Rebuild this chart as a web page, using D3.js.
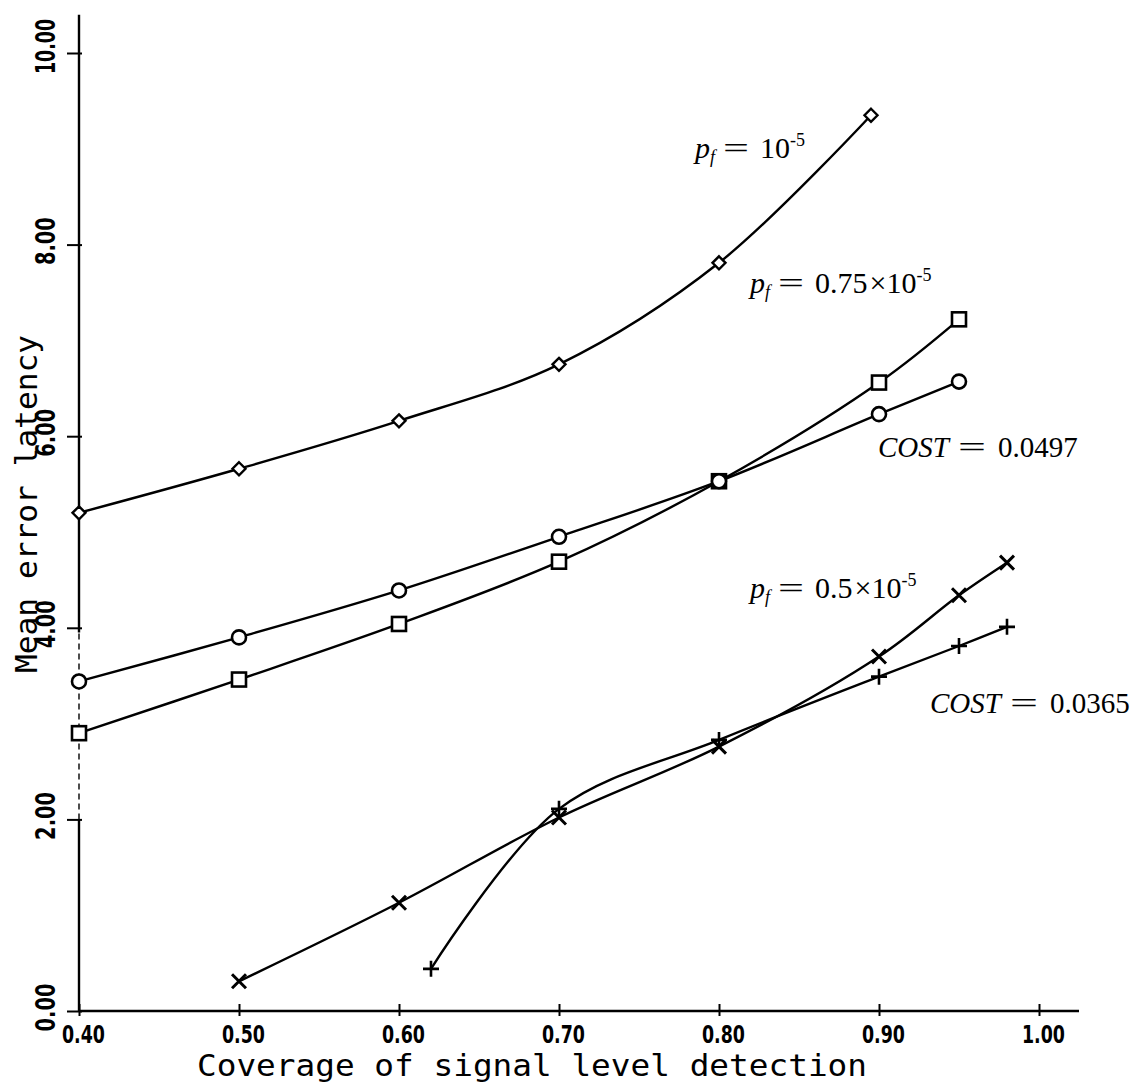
<!DOCTYPE html>
<html>
<head>
<meta charset="utf-8">
<script src="https://cdn.jsdelivr.net/npm/d3@7"></script>
<style>
  body { margin: 0; background: #fff; }
  svg { display: block; }
</style>
</head>
<body>
<svg id="chart"></svg>
<script>
// data
const xTicks = [0.40, 0.50, 0.60, 0.70, 0.80, 0.90, 1.00]
const yTicks = [0, 2, 4, 6, 8, 10]

const diamondX = [0.40, 0.50, 0.60, 0.70, 0.80, 0.895]
const diamondY = [5.20, 5.66, 6.16, 6.75, 7.81, 9.35]

const squareX = [0.40, 0.50, 0.60, 0.70, 0.80, 0.90, 0.95]
const squareY = [2.90, 3.46, 4.04, 4.69, 5.53, 6.56, 7.22]

const circleX = [0.40, 0.50, 0.60, 0.70, 0.80, 0.90, 0.95]
const circleY = [3.44, 3.90, 4.39, 4.95, 5.53, 6.23, 6.57]

const starX = [0.50, 0.60, 0.70, 0.80, 0.90, 0.95, 0.98]
const starY = [0.31, 1.13, 2.02, 2.76, 3.70, 4.34, 4.68]

const plusX = [0.62, 0.70, 0.80, 0.90, 0.95, 0.98]
const plusY = [0.44, 2.11, 2.83, 3.49, 3.81, 4.01]

const W = 1141, H = 1085

const svg = d3.select('#chart')
  .attr('width', W)
  .attr('height', H)

// setup scaling
const xScale = d3.scaleLinear().domain([0.4, 1.0]).range([79, 1039])
const yScale = d3.scaleLinear().domain([0, 10]).range([1011, 53])

const tickFont = '"Liberation Sans Narrow", "DejaVu Sans Condensed", sans-serif'

// axes
const xAxis = d3.axisBottom(xScale).tickValues(xTicks).tickSize(6).tickSizeOuter(0).tickFormat(d3.format('.2f'))
const yAxis = d3.axisLeft(yScale).tickValues(yTicks).tickSize(12).tickSizeOuter(0).tickFormat(d3.format('.2f'))

const gx = svg.append('g')
  .attr('transform', `translate(0,${yScale(0)})`)
  .call(xAxis)
gx.select('.domain').remove()
gx.selectAll('.tick line').attr('y1', -7).attr('y2', 5).attr('stroke', '#000').attr('stroke-width', 2)
gx.selectAll('.tick text')
  .attr('x', 4)
  .attr('y', 32)
  .attr('dy', 0)
  .attr('textLength', 43)
  .attr('lengthAdjust', 'spacingAndGlyphs')
  .attr('font-family', tickFont)
  .attr('font-weight', 'bold')
  .attr('font-size', 24)
  .attr('fill', '#000')

const gy = svg.append('g')
  .attr('transform', `translate(${xScale(0.4)},0)`)
  .call(yAxis)
gy.select('.domain').remove()
gy.selectAll('.tick line').attr('x1', -12).attr('x2', 3).attr('stroke', '#000').attr('stroke-width', 2)
gy.selectAll('.tick text')
  .attr('x', 0).attr('y', 0).attr('dy', 0)
  .attr('text-anchor', 'middle')
  .attr('transform', d => `translate(-24,${d >= 10 ? -7 : -4}) rotate(-90)`)
  .attr('textLength', d => d >= 10 ? 55 : 48)
  .attr('lengthAdjust', 'spacingAndGlyphs')
  .attr('font-family', tickFont)
  .attr('font-weight', 'bold')
  .attr('font-size', 27)
  .attr('fill', '#000')

// axis lines
const axisG = svg.append('g').attr('stroke', '#000').attr('stroke-width', 2.4).attr('fill', 'none')
axisG.append('line')
  .attr('x1', xScale(0.4)).attr('x2', xScale(1.025))
  .attr('y1', yScale(0)).attr('y2', yScale(0))
axisG.append('line')
  .attr('x1', xScale(0.4)).attr('x2', xScale(0.4))
  .attr('y1', yScale(0)).attr('y2', yScale(2))
axisG.append('line')
  .attr('x1', xScale(0.4)).attr('x2', xScale(0.4))
  .attr('y1', yScale(2)).attr('y2', yScale(3.95))
  .attr('stroke-width', 1.4)
  .attr('stroke-dasharray', '6,4')
axisG.append('line')
  .attr('x1', xScale(0.4)).attr('x2', xScale(0.4))
  .attr('y1', yScale(3.95)).attr('y2', yScale(10.4))

// axis titles
svg.append('text')
  .attr('x', 197)
  .attr('y', 1076)
  .attr('textLength', 670)
  .attr('lengthAdjust', 'spacingAndGlyphs')
  .attr('font-family', '"DejaVu Sans Mono", monospace')
  .attr('font-size', 30)
  .text('Coverage of signal level detection')

svg.append('text')
  .attr('transform', 'translate(37,504) rotate(-90)')
  .attr('text-anchor', 'middle')
  .attr('textLength', 338)
  .attr('lengthAdjust', 'spacingAndGlyphs')
  .attr('font-family', '"DejaVu Sans Mono", monospace')
  .attr('font-size', 31)
  .text('Mean error latency')

// series
const toPts = (xs, ys) => xs.map((x, i) => [x, ys[i]])
const line = d3.line()
  .x(d => xScale(d[0]))
  .y(d => yScale(d[1]))
  .curve(d3.curveCatmullRom.alpha(0.5))

const series = [
  {pts: toPts(diamondX, diamondY), mark: 'diamond'},
  {pts: toPts(squareX, squareY), mark: 'square'},
  {pts: toPts(circleX, circleY), mark: 'circle'},
  {pts: toPts(starX, starY), mark: 'star'},
  {pts: toPts(plusX, plusY), mark: 'plus'},
]

series.forEach(s => {
  svg.append('path')
    .attr('d', line(s.pts))
    .attr('fill', 'none')
    .attr('stroke', '#000')
    .attr('stroke-width', 2.4)

  const g = svg.append('g')
    .selectAll('g')
    .data(s.pts)
    .enter()
    .append('g')
    .attr('transform', d => `translate(${xScale(d[0])},${yScale(d[1])})`)

  if (s.mark === 'diamond') {
    g.append('path').attr('d', 'M0,-6.5L6.5,0L0,6.5L-6.5,0Z')
      .attr('fill', '#fff').attr('stroke', '#000').attr('stroke-width', 2.4)
  } else if (s.mark === 'square') {
    g.append('rect').attr('x', -7).attr('y', -7).attr('width', 14).attr('height', 14)
      .attr('fill', '#fff').attr('stroke', '#000').attr('stroke-width', 2.6)
  } else if (s.mark === 'circle') {
    g.append('circle').attr('r', 7)
      .attr('fill', '#fff').attr('stroke', '#000').attr('stroke-width', 2.6)
  } else if (s.mark === 'star') {
    g.append('path').attr('d', 'M-7,-7L7,7M7,-7L-7,7')
      .attr('stroke', '#000').attr('stroke-width', 3)
  } else {
    g.append('path').attr('d', 'M-8,0L8,0M0,-8L0,8')
      .attr('stroke', '#000').attr('stroke-width', 2.6)
  }
})

// series labels
const serif = '"Liberation Serif", "DejaVu Serif", serif'
function pfLabel(x, y, coef) {
  const t = svg.append('text')
    .attr('x', x).attr('y', y)
    .attr('font-family', serif)
    .attr('font-size', 30)
  t.append('tspan').attr('font-style', 'italic').text('p')
  t.append('tspan').attr('font-style', 'italic').attr('font-size', 18).attr('dy', 5).text('f')
  t.append('tspan').attr('dy', -5).attr('dx', 8).attr('textLength', 26).attr('lengthAdjust', 'spacingAndGlyphs').text('=')
  if (coef) {
    t.append('tspan').attr('dx', 11).text(coef)
    t.append('tspan').attr('font-size', 30).attr('dx', 2).text('\u00d7')
    t.append('tspan').text('10')
  } else {
    t.append('tspan').attr('dx', 11).text('10')
  }
  t.append('tspan').attr('font-size', 18).attr('dy', -12).text('-5')
}
pfLabel(695, 158, '')
pfLabel(750, 293, '0.75')
pfLabel(750, 598, '0.5')

function costLabel(x, y, val) {
  const t = svg.append('text')
    .attr('x', x).attr('y', y)
    .attr('font-family', serif)
    .attr('font-size', 29)
  t.append('tspan').attr('font-style', 'italic').text('COST')
  t.append('tspan').attr('dx', 9).attr('textLength', 28).attr('lengthAdjust', 'spacingAndGlyphs').text('=')
  t.append('tspan').attr('dx', 12).text(val)
}
costLabel(878, 457, '0.0497')
costLabel(930, 713, '0.0365')
</script>
</body>
</html>
